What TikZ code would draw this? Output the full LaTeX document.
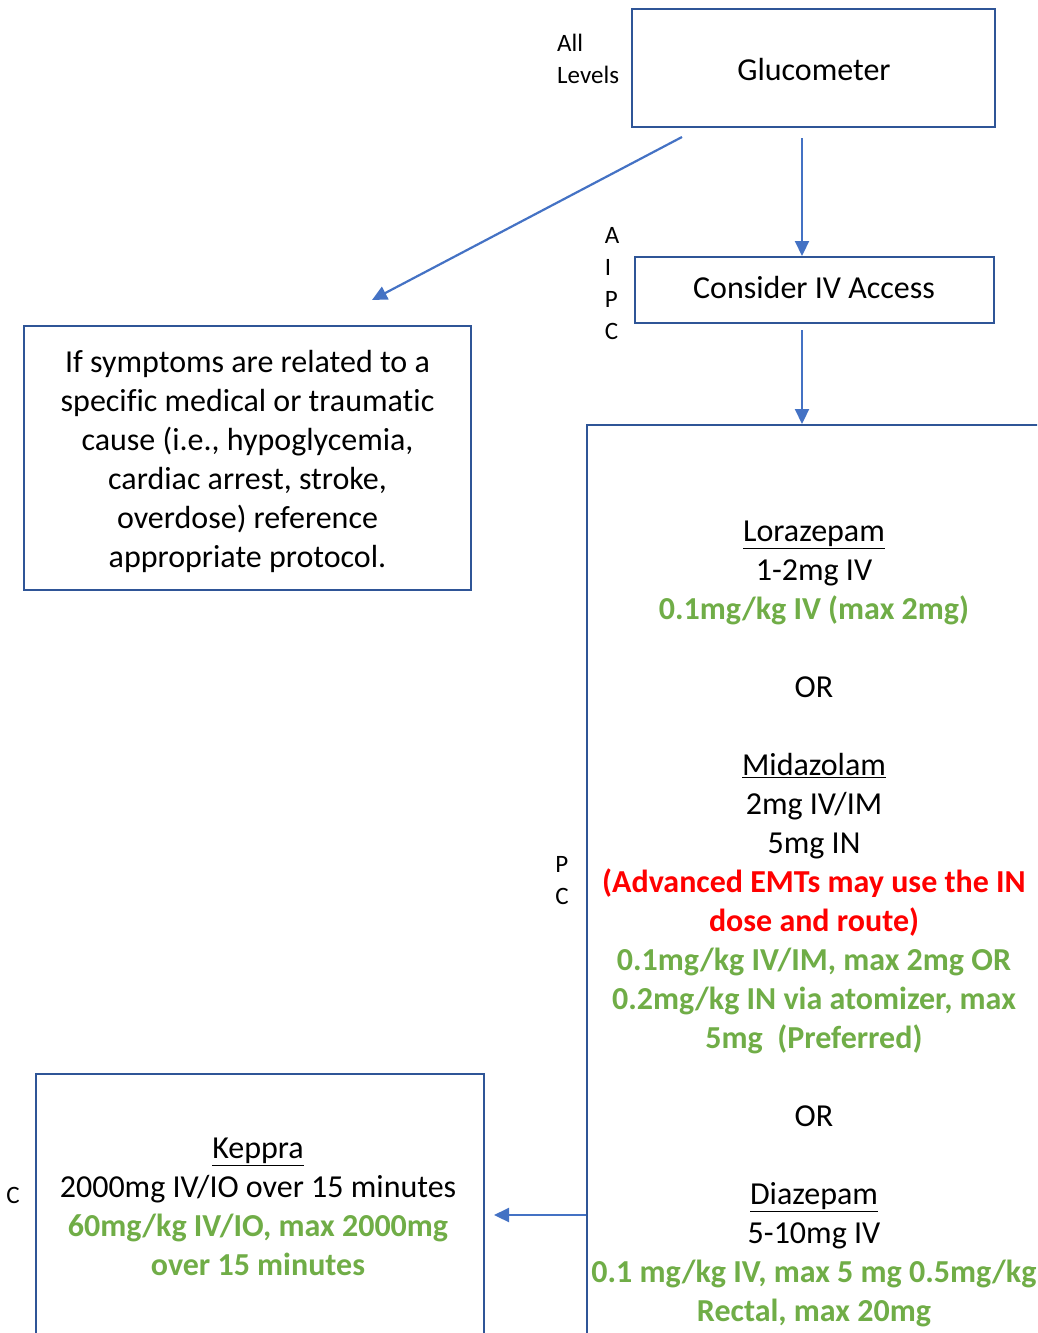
\documentclass[tikz,border=0pt]{standalone}
\usepackage{fontspec}
\setmainfont{Carlito}[Ligatures=NoCommon]
\usetikzlibrary{arrows.meta}
\definecolor{boxblue}{HTML}{2F5597}
\definecolor{arrowblue}{HTML}{4472C4}
\definecolor{dosegreen}{HTML}{70AD47}
\definecolor{alertred}{HTML}{FF0000}
\tikzset{
  stepbox/.style={draw=boxblue, line width=2pt, inner sep=0pt},
  flow/.style={draw=arrowblue, line width=2.2pt, -{Triangle[length=15pt,width=14pt]}},
  txt/.style={align=center, inner sep=0pt, font=\fontsize{32}{39}\selectfont},
  lvl/.style={align=left, inner sep=0pt, font=\fontsize{25}{32}\selectfont},
}
\newcommand{\grn}[1]{\textcolor{dosegreen}{\bfseries #1}}
\newcommand{\rd}[1]{\textcolor{alertred}{\bfseries #1}}
\begin{document}
\begin{tikzpicture}[x=1pt,y=-1pt]
\useasboundingbox (0,0) rectangle (1037,1333);
\clip (0,0) rectangle (1037,1333);

% boxes
\node[stepbox, minimum width=363pt, minimum height=118pt] (gluc) at (813.5,68) {};
\node[stepbox, minimum width=359pt, minimum height=66pt] (iv) at (814.5,290) {};
\node[stepbox, minimum width=447pt, minimum height=264pt] (cause) at (247.5,458) {};
\node[stepbox, minimum width=540pt, minimum height=1000pt, anchor=north west] (meds) at (586,424) {};
\node[stepbox, minimum width=448pt, minimum height=400pt, anchor=north west] (keppra) at (35,1073) {};

% box texts
\node[txt] (glutext) at (814,70) {Glucometer};
\node[txt] (ivtext) at (814,288) {Consider IV Access};
\node[txt] (causetext) at (247.5,461)
  {If symptoms are related to a\\specific medical or traumatic\\cause (i.e., hypoglycemia,\\cardiac arrest, stroke,\\overdose) reference\\appropriate protocol.};

\node[txt] (medtext) at (814,924) {%
  \underline{Lorazepam}\\
  1-2mg IV\\
  \grn{0.1mg/kg IV (max 2mg)}\\[39pt]
  OR\\[39pt]
  \underline{Midazolam}\\
  2mg IV/IM\\
  5mg IN\\
  \rd{(Advanced EMTs may use the IN}\\
  \rd{dose and route)}\\
  \grn{0.1mg/kg IV/IM, max 2mg OR}\\
  \grn{0.2mg/kg IN via atomizer, max}\\
  \grn{5mg\ \ (Preferred)}\\[39pt]
  OR\\[39pt]
  \underline{Diazepam}\\
  5-10mg IV\\
  \grn{0.1 mg/kg IV, max 5 mg 0.5mg/kg}\\
  \grn{Rectal, max 20mg}};

\node[txt] (keptext) at (258,1207) {%
  \underline{Keppra}\\
  2000mg IV/IO over 15 minutes\\
  \grn{60mg/kg IV/IO, max 2000mg}\\
  \grn{over 15 minutes}};

% provider level labels
\node[lvl, anchor=west] (lvlall) at (557,59) {All\\Levels};
\node[lvl] (lvlaipc) at (612,284) {A\\I\\P\\C};
\node[lvl] (lvlpc) at (562,881) {P\\C};
\node[lvl] (lvlc) at (13,1195) {C};

% connectors
\coordinate (diagstart) at (682,137);
\coordinate (diagend) at (372,300);
\draw[flow] (diagstart) -- (diagend);
\draw[flow] ([yshift=-10pt]gluc.south -| 802,0) -- (iv.north -| 802,0);
\draw[flow] ([yshift=-6pt]iv.south -| 802,0) -- (meds.north -| 802,0);
\draw[flow] (meds.west |- 0,1215) -- ([xshift=9pt]keppra.east |- 0,1215);
\end{tikzpicture}
\end{document}
